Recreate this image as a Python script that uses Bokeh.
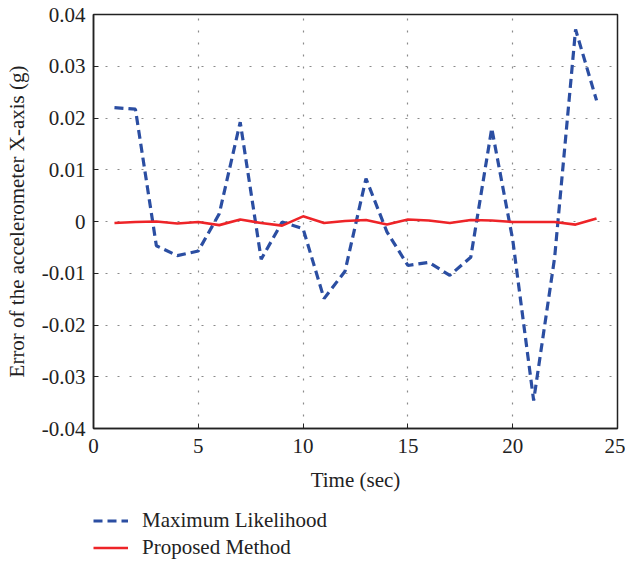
from bokeh.plotting import figure
from bokeh.layouts import column
from bokeh.models import Range1d, FixedTicker, Legend, LegendItem
from bokeh.embed import file_html
from bokeh.resources import INLINE

time_sec = list(range(1, 25))
maximum_likelihood = [0.0220, 0.0217, -0.0047, -0.0066, -0.0057, 0.0015, 0.0192, -0.0073,
                      -0.0001, -0.0014, -0.0149, -0.0096, 0.0083, -0.0020, -0.0085, -0.0079,
                      -0.0104, -0.0069, 0.0180, -0.0035, -0.0346, -0.0070, 0.0371, 0.0234]
proposed_method = [-0.0003, -0.0001, 0.0000, -0.0004, -0.0001, -0.0007, 0.0004, -0.0003,
                   -0.0008, 0.0010, -0.0003, 0.0001, 0.0003, -0.0006, 0.0004, 0.0002,
                   -0.0003, 0.0003, 0.0002, -0.0001, -0.0001, -0.0001, -0.0006, 0.0006]
x_ticks = [0, 5, 10, 15, 20, 25]
y_ticks = [-0.04, -0.03, -0.02, -0.01, 0.0, 0.01, 0.02, 0.03, 0.04]
y_tick_labels = ["-0.04", "-0.03", "-0.02", "-0.01", "0", "0.01", "0.02", "0.03", "0.04"]

FONT = "Liberation Serif"
FS = "21px"
BLUE = "#2b4ea2"
RED = "#ee2428"
DASH = "9 5"

p = figure(width=625, height=500, output_backend="svg", toolbar_location=None,
           x_range=Range1d(0, 25), y_range=Range1d(-0.04, 0.04))
p.min_border_left = 93
p.min_border_right = 8
p.min_border_top = 14
p.min_border_bottom = 72
p.background_fill_color = "white"
p.border_fill_color = "white"
p.outline_line_color = "#222222"
p.outline_line_width = 1.5

p.xaxis.ticker = FixedTicker(ticks=x_ticks)
p.yaxis.ticker = FixedTicker(ticks=y_ticks)
p.yaxis.major_label_overrides = {t: l for t, l in zip(y_ticks, y_tick_labels)}
p.xaxis.major_label_overrides = {t: str(t) for t in x_ticks}
for ax in (p.xaxis, p.yaxis):
    ax.axis_line_color = "#222222"
    ax.axis_line_width = 1.5
    ax.major_tick_in = 5
    ax.major_tick_out = 0
    ax.minor_tick_line_color = None
    ax.major_tick_line_color = "#222222"
    ax.major_label_text_font = FONT
    ax.major_label_text_font_size = FS
    ax.major_label_text_color = "#222222"
    ax.axis_label_text_font = FONT
    ax.axis_label_text_font_size = FS
    ax.axis_label_text_font_style = "normal"
    ax.axis_label_text_color = "#222222"
p.xaxis.axis_label = "Time (sec)"
p.yaxis.axis_label = "Error of the accelerometer X-axis (g)"
p.xaxis.major_label_standoff = 10
p.xaxis.axis_label_standoff = 12
p.yaxis.major_label_standoff = 8
p.yaxis.axis_label_standoff = 10

for g in (p.xgrid, p.ygrid):
    g.grid_line_color = "#8a8a8a"
    g.grid_line_dash = "2 10"
    g.grid_line_width = 1.2

p.line(time_sec, maximum_likelihood, line_color=BLUE, line_width=3.2, line_dash=DASH)
p.line(time_sec, proposed_method, line_color=RED, line_width=2.6)

# legend panel below the chart (series drawn out of view; only the legend shows)
leg = figure(width=625, height=61, output_backend="svg", toolbar_location=None,
             x_range=Range1d(100, 101), y_range=Range1d(100, 101))
leg.axis.visible = False
leg.grid.visible = False
leg.outline_line_color = None
leg.min_border = 0
ml = leg.line(time_sec, maximum_likelihood, line_color=BLUE, line_width=3.2, line_dash=DASH)
pm = leg.line(time_sec, proposed_method, line_color=RED, line_width=2.6)

legend = Legend(items=[LegendItem(label="Maximum Likelihood", renderers=[ml]),
                       LegendItem(label="Proposed Method", renderers=[pm])],
                location=(0, 0), orientation="vertical")
legend.label_text_font = FONT
legend.label_text_font_size = FS
legend.label_text_color = "#222222"
legend.glyph_width = 35
legend.glyph_height = 27
legend.label_height = 27
legend.label_standoff = 14
legend.spacing = 0
legend.padding = 0
legend.margin = 0
legend.border_line_color = None
legend.background_fill_alpha = 0
leg.add_layout(legend, "center")

layout = column(p, leg, spacing=0)
open("out.html", "w").write(file_html(layout, INLINE))
